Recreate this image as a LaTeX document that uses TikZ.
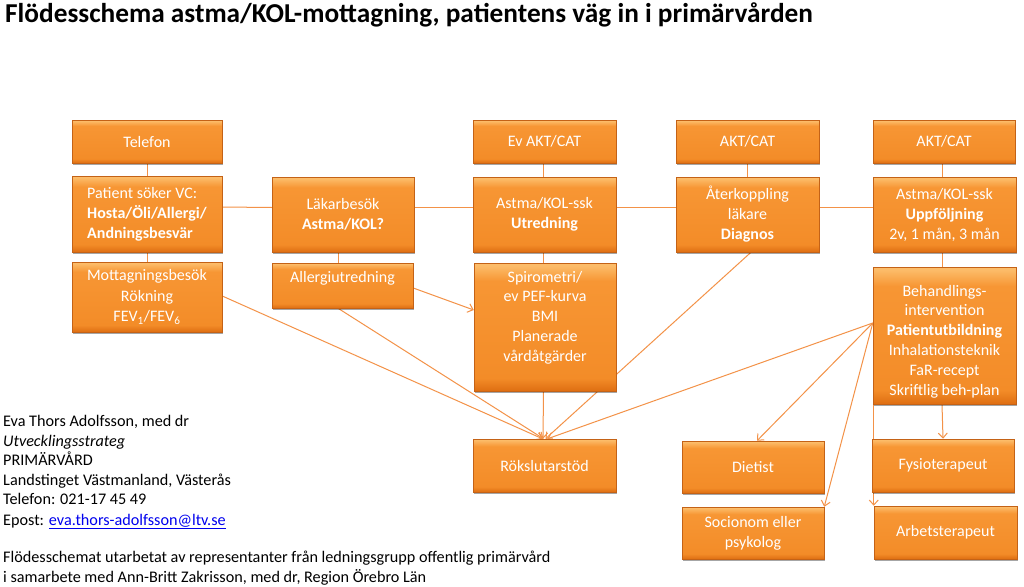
\documentclass[tikz,border=0pt]{standalone}
\usepackage{fontspec}
\setmainfont{Carlito}
\usetikzlibrary{arrows.meta,shadows}
\definecolor{otop}{RGB}{252,188,105}
\definecolor{omid}{RGB}{247,150,52}
\definecolor{omid2}{RGB}{243,140,40}
\definecolor{obot}{RGB}{222,110,18}
\definecolor{oedge}{RGB}{196,98,22}
\definecolor{lineor}{RGB}{243,146,72}
\definecolor{linkblue}{RGB}{0,0,238}
\pgfdeclareverticalshading{boxshade}{100bp}{color(0bp)=(obot); color(25bp)=(obot); color(30bp)=(omid2); color(68bp)=(omid); color(74bp)=(otop); color(100bp)=(otop)}
\pgfdeclarelayer{bg}
\pgfsetlayers{bg,main}
\tikzset{
  box/.style={draw=oedge, line width=0.5pt, shading=boxshade,
    drop shadow={shadow xshift=1.2pt, shadow yshift=-1.8pt, opacity=0.35, fill=black},
    text=white, font=\fontsize{16}{20}\selectfont, align=center, inner sep=0pt},
  lbl/.style={text=white, font=\fontsize{16}{19.8}\selectfont, align=center, inner sep=0pt},
  conn/.style={draw=lineor, line width=1pt},
  arr/.style={conn, -{Straight Barb[length=5pt,width=9pt]}},
  info/.style={anchor=base west, inner sep=0pt, font=\fontsize{16.2}{19}\selectfont},
}
\begin{document}
\begin{tikzpicture}[x=1pt,y=-1pt]
\useasboundingbox (0,0) rectangle (1024,586);

\node[anchor=base west, inner sep=0pt, font=\fontsize{27.3}{30}\selectfont\bfseries] (title) at (5,23)
  {Flödesschema astma/KOL-mottagning, patientens väg in i primärvården};

% column 1
\node[box, minimum width=150pt, minimum height=43pt] (tel) at (147,141.5) {Telefon};
\node[box, minimum width=150pt, minimum height=76pt, align=left] (pat) at (147,214)
  {Patient söker VC:\\\textbf{Hosta/Öli/Allergi/}\\\textbf{Andningsbesvär}};
\node[box, minimum width=150pt, minimum height=70pt, font=\fontsize{16}{20.5}\selectfont] (mott) at (147,297)
  {Mottagningsbesök\\Rökning\\FEV\textsubscript{1}/FEV\textsubscript{6}};
% column 2
\node[box, minimum width=142pt, minimum height=75pt] (lak) at (343,214.5)
  {Läkarbesök\\\textbf{Astma/KOL?}};
\node[box, minimum width=141pt, minimum height=45pt,
  label={[lbl, yshift=7.5pt]center:Allergiutredning}] (all) at (342.5,285.5) {};
% column 3
\node[box, minimum width=143pt, minimum height=43pt] (ev) at (544.5,141.5) {Ev AKT/CAT};
\node[box, minimum width=143pt, minimum height=75pt] (utr) at (544.5,214.5)
  {Astma/KOL-ssk\\\textbf{Utredning}};
\node[box, minimum width=142pt, minimum height=128pt,
  label={[lbl, yshift=9.5pt]center:{Spirometri/\\ev PEF-kurva\\BMI\\Planerade\\vårdåtgärder}}] (spi) at (545,327) {};
\node[box, minimum width=143pt, minimum height=53pt] (rok) at (544.5,465.5) {Rökslutarstöd};
% column 4
\node[box, minimum width=143pt, minimum height=43pt] (akt1) at (747.5,141.5) {AKT/CAT};
\node[box, minimum width=143pt, minimum height=75pt] (ater) at (747.5,214.5)
  {Återkoppling\\läkare\\\textbf{Diagnos}};
\node[box, minimum width=142pt, minimum height=52pt] (die) at (753,467) {Dietist};
\node[box, minimum width=142pt, minimum height=52pt] (soc) at (753,533) {Socionom eller\\psykolog};
% column 5
\node[box, minimum width=142pt, minimum height=43pt] (akt2) at (944,141.5) {AKT/CAT};
\node[box, minimum width=143pt, minimum height=75pt] (upp) at (944.5,214.5)
  {Astma/KOL-ssk\\\textbf{Uppföljning}\\2v, 1 mån, 3 mån};
\node[box, minimum width=143pt, minimum height=137pt,
  label={[lbl, yshift=-6pt]center:{Behandlings-\\intervention\\\textbf{Patientutbildning}\\Inhalationsteknik\\FaR-recept\\Skriftlig beh-plan}}] (beh) at (944.5,335.5) {};
\node[box, minimum width=142pt, minimum height=53pt] (fys) at (943,465.5) {Fysioterapeut};
\node[box, minimum width=143pt, minimum height=53pt] (arb) at (945.5,532.5) {Arbetsterapeut};

\coordinate (bw) at ([yshift=12.5pt]beh.west);

\begin{pgfonlayer}{bg}
\fill[white] (0,0) rectangle (1024,586);
\draw[conn] (tel) -- (pat);
\draw[conn] (pat) -- (mott);
\draw[conn] ([yshift=7pt]pat.east) -- ([yshift=7pt]lak.west);
\draw[conn] ([yshift=7pt]lak.east) -- ([yshift=7pt]utr.west);
\draw[conn] ([yshift=7pt]utr.east) -- ([yshift=7pt]ater.west);
\draw[conn] ([yshift=7pt]ater.east) -- ([yshift=7pt]upp.west);
\draw[conn] ([xshift=-5pt]lak.south) -- ([xshift=-4.5pt]all.north);
\draw[conn] ([xshift=-1pt]ev.south) -- ([xshift=-1pt]utr.north);
\draw[conn] ([xshift=-1pt]utr.south) -- ([xshift=-1.5pt]spi.north);
\draw[conn] (akt1) -- (ater);
\draw[conn] ([xshift=-2pt]akt2.south) -- ([xshift=-2.5pt]upp.north);
\draw[conn] ([xshift=-2.5pt]upp.south) -- ([xshift=-2.5pt]beh.north);
\draw[arr] ([xshift=-2.5pt]beh.south) -- (fys.north);
\draw[arr] ([xshift=1pt]beh.south west) -- (arb.north west);
\draw[arr] ([yshift=1pt]mott.east) -- ([xshift=-2pt]rok.north);
\draw[arr] ([xshift=-4.5pt]all.south) -- ([xshift=-1pt]rok.north);
\draw[arr] ([yshift=-2.5pt]all.east) -- ([yshift=17pt]spi.west);
\draw[arr] ([xshift=3.5pt]ater.south) -- ([xshift=1pt]rok.north);
\draw[arr] ([xshift=-1.5pt]spi.south) -- ([xshift=-1.5pt]rok.north);
\draw[arr] (bw) -- ([xshift=3pt]rok.north);
\draw[arr] (bw) -- ([xshift=4pt]die.north);
\draw[arr] (bw) -- (soc.north east);
\end{pgfonlayer}

% information text
\node[info] (i1) at (3,426.5) {Eva Thors Adolfsson, med dr};
\node[info] (i2) at (3,446) {\textit{Utvecklingsstrateg}};
\node[info] (i3) at (3,465.5) {PRIMÄRVÅRD};
\node[info] (i4) at (3,485) {Landstinget Västmanland, Västerås};
\node[info] (i5) at (3,504.5) {Telefon: 021-17 45 49};
\node[info] (i6) at (3,525) {Epost: \textcolor{linkblue}{\underline{eva.thors-adolfsson@ltv.se}}};
\node[info] (i7) at (3,562.5) {Flödesschemat utarbetat av representanter från ledningsgrupp offentlig primärvård};
\node[info] (i8) at (3,582.5) {i samarbete med Ann-Britt Zakrisson, med dr, Region Örebro Län};
\end{tikzpicture}
\end{document}
